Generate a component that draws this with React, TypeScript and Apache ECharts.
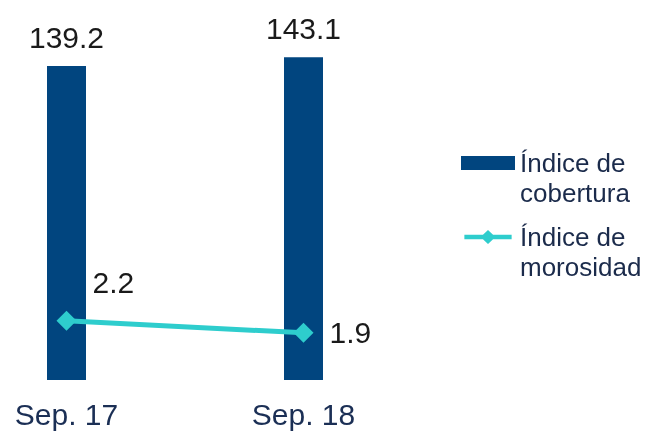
import React, { useEffect, useRef } from "react";
import * as echarts from "echarts";

const categories = ["Sep. 17", "Sep. 18"];
const cobertura = [139.2, 143.1];
const morosidad = [2.2, 1.9];
const seriesNames = ["Índice de cobertura", "Índice de morosidad"];

const FONT = "'Liberation Sans', Arial, Helvetica, sans-serif";
const LINE_ICON = "path://M0,5 L54,5 L54,10 L0,10 Z M27,-0.5 L35.5,7.5 L27,15.5 L18.5,7.5 Z";

export default function App() {
  const ref = useRef<HTMLDivElement>(null);
  useEffect(() => {
    document.body.style.margin = "0";
    const chart = echarts.init(ref.current!, null, { renderer: "svg" });
    chart.setOption({
      animation: false,
      textStyle: { fontFamily: FONT },
      grid: { left: 66.5, right: 342.5, top: 20, bottom: 53, containLabel: false },
      legend: {
        orient: "vertical",
        left: 461,
        top: 118,
        padding: 0,
        itemGap: -16,
        itemWidth: 54,
        itemHeight: 14,
        selectedMode: false,
        formatter: (n: string) => "\n" + n.replace(" de ", " de\n"),
        textStyle: {
          fontFamily: FONT,
          fontSize: 26,
          lineHeight: 30,
          color: "#1b2b4b",
        },
        data: [
          { name: seriesNames[0], icon: "rect" },
          { name: seriesNames[1], icon: LINE_ICON },
        ],
      },
      xAxis: {
        type: "category",
        data: categories,
        boundaryGap: false,
        axisLine: { show: false },
        axisTick: { show: false },
        axisLabel: {
          fontFamily: FONT,
          fontSize: 30,
          color: "#1b2f55",
          margin: 19,
        },
      },
      yAxis: [
        { type: "value", min: 0, max: 159.6, show: false, splitLine: { show: false } },
        { type: "value", min: 0.72, max: 9.72, show: false, splitLine: { show: false } },
      ],
      series: [
        {
          name: seriesNames[0],
          type: "bar",
          data: cobertura,
          barWidth: 39,
          clip: false,
          itemStyle: { color: "#01457f" },
          label: {
            show: true,
            position: "top",
            distance: 14,
            fontFamily: FONT,
            fontSize: 30,
            color: "#1a1a1a",
          },
        },
        {
          name: seriesNames[1],
          type: "line",
          yAxisIndex: 1,
          data: morosidad.map((v, i) => ({
            value: v,
            label: i === 0 ? { offset: [0, -38] } : {},
          })),
          symbol: "diamond",
          symbolSize: 20,
          clip: false,
          lineStyle: { color: "#2ecdcd", width: 5 },
          itemStyle: { color: "#2ecdcd" },
          label: {
            show: true,
            position: "right",
            distance: 16,
            fontFamily: FONT,
            fontSize: 30,
            color: "#1a1a1a",
          },
        },
      ],
    });
    return () => chart.dispose();
  }, []);
  return (
    <div
      ref={ref}
      style={{ position: "fixed", left: 0, top: 0, width: 646, height: 433 }}
    />
  );
}
